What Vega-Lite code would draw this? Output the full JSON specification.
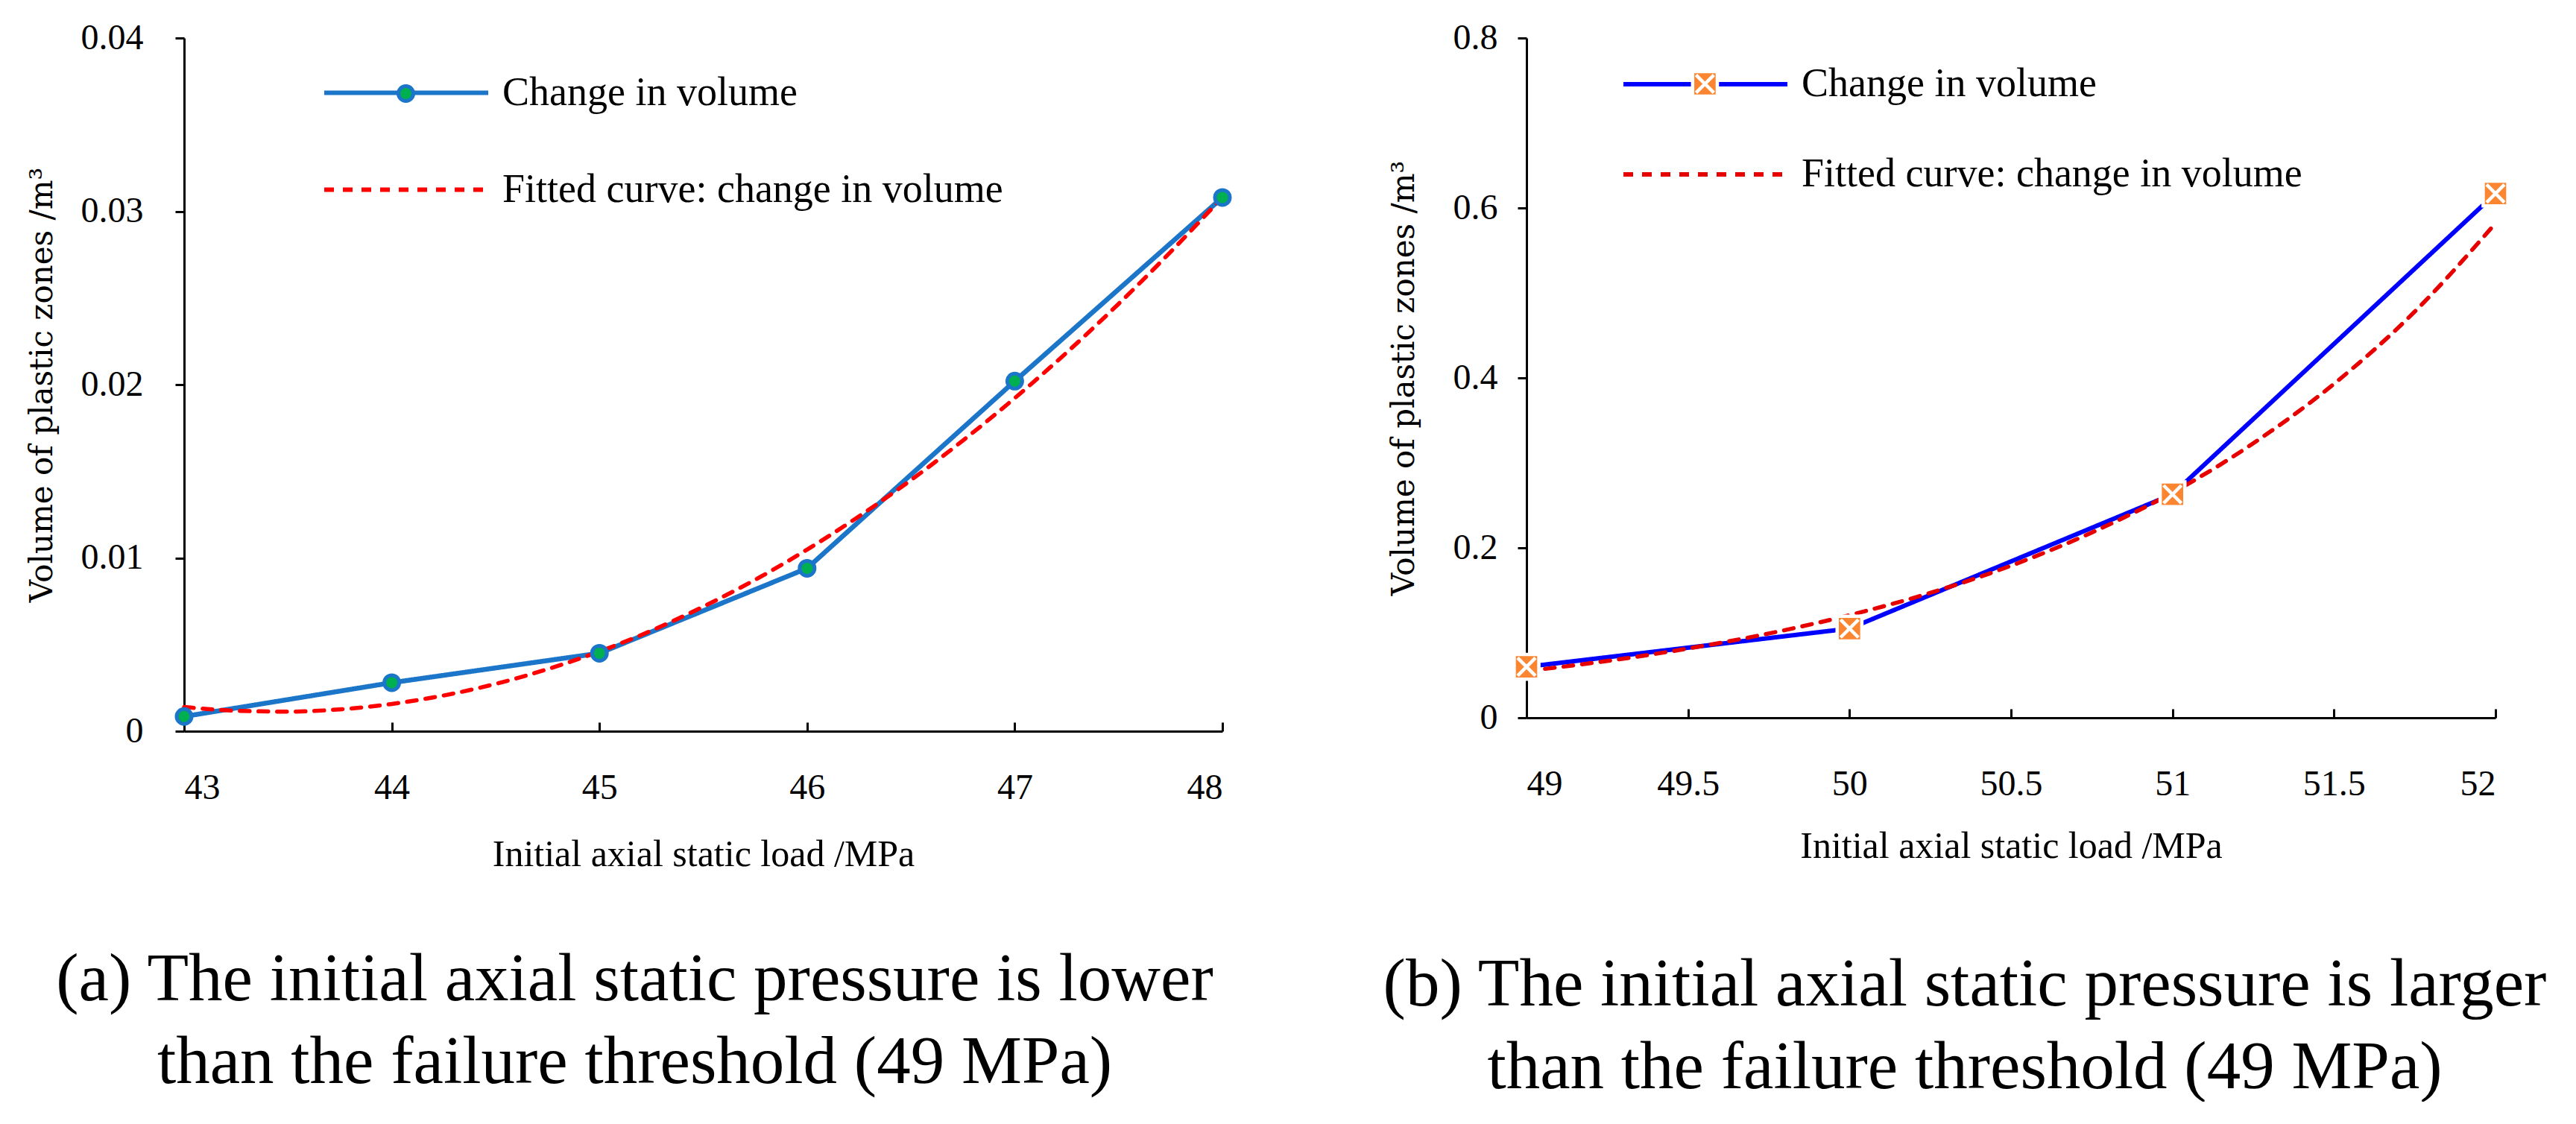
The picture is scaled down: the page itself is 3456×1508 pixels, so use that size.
{
  "$schema": "https://vega.github.io/schema/vega-lite/v6.json",
  "background": "white",
  "padding": {"left": 35, "top": 27, "right": 0, "bottom": 0},
  "datasets": {
    "low": [
      {"load": 43, "volume": 0.00085, "series": "Change in volume"},
      {"load": 44, "volume": 0.0028, "series": "Change in volume"},
      {"load": 45, "volume": 0.0045, "series": "Change in volume"},
      {"load": 46, "volume": 0.0094, "series": "Change in volume"},
      {"load": 47, "volume": 0.0202, "series": "Change in volume"},
      {"load": 48, "volume": 0.0308, "series": "Change in volume"},
      {"load": 43, "volume": 0.0014, "series": "Fitted curve: change in volume"},
      {"load": 43.25, "volume": 0.00118, "series": "Fitted curve: change in volume"},
      {"load": 43.5, "volume": 0.00113, "series": "Fitted curve: change in volume"},
      {"load": 43.75, "volume": 0.00126, "series": "Fitted curve: change in volume"},
      {"load": 44, "volume": 0.00157, "series": "Fitted curve: change in volume"},
      {"load": 44.25, "volume": 0.00206, "series": "Fitted curve: change in volume"},
      {"load": 44.5, "volume": 0.00273, "series": "Fitted curve: change in volume"},
      {"load": 44.75, "volume": 0.00358, "series": "Fitted curve: change in volume"},
      {"load": 45, "volume": 0.0046, "series": "Fitted curve: change in volume"},
      {"load": 45.25, "volume": 0.0058, "series": "Fitted curve: change in volume"},
      {"load": 45.5, "volume": 0.00719, "series": "Fitted curve: change in volume"},
      {"load": 45.75, "volume": 0.00874, "series": "Fitted curve: change in volume"},
      {"load": 46, "volume": 0.01048, "series": "Fitted curve: change in volume"},
      {"load": 46.25, "volume": 0.0124, "series": "Fitted curve: change in volume"},
      {"load": 46.5, "volume": 0.01449, "series": "Fitted curve: change in volume"},
      {"load": 46.75, "volume": 0.01677, "series": "Fitted curve: change in volume"},
      {"load": 47, "volume": 0.01922, "series": "Fitted curve: change in volume"},
      {"load": 47.25, "volume": 0.02185, "series": "Fitted curve: change in volume"},
      {"load": 47.5, "volume": 0.02466, "series": "Fitted curve: change in volume"},
      {"load": 47.75, "volume": 0.02765, "series": "Fitted curve: change in volume"},
      {"load": 48, "volume": 0.03081, "series": "Fitted curve: change in volume"}
    ],
    "high": [
      {"load": 49, "volume": 0.06, "series": "Change in volume"},
      {"load": 50, "volume": 0.105, "series": "Change in volume"},
      {"load": 51, "volume": 0.263, "series": "Change in volume"},
      {"load": 52, "volume": 0.617, "series": "Change in volume"},
      {"load": 49, "volume": 0.055, "series": "Fitted curve: change in volume"},
      {"load": 49.25, "volume": 0.0669, "series": "Fitted curve: change in volume"},
      {"load": 49.5, "volume": 0.0815, "series": "Fitted curve: change in volume"},
      {"load": 49.75, "volume": 0.0992, "series": "Fitted curve: change in volume"},
      {"load": 50, "volume": 0.1208, "series": "Fitted curve: change in volume"},
      {"load": 50.25, "volume": 0.147, "series": "Fitted curve: change in volume"},
      {"load": 50.5, "volume": 0.179, "series": "Fitted curve: change in volume"},
      {"load": 50.75, "volume": 0.218, "series": "Fitted curve: change in volume"},
      {"load": 51, "volume": 0.265, "series": "Fitted curve: change in volume"},
      {"load": 51.25, "volume": 0.323, "series": "Fitted curve: change in volume"},
      {"load": 51.5, "volume": 0.393, "series": "Fitted curve: change in volume"},
      {"load": 51.75, "volume": 0.478, "series": "Fitted curve: change in volume"},
      {"load": 52, "volume": 0.582, "series": "Fitted curve: change in volume"}
    ]
  },
  "bounds": "flush",
  "spacing": 408,
  "resolve": {
    "scale": {"color": "independent", "strokeDash": "independent", "shape": "independent"},
    "legend": {"color": "independent", "strokeDash": "independent", "shape": "independent"}
  },
  "hconcat": [
    {
      "width": 1393,
      "height": 930,
      "data": {"name": "low"},
      "title": {
        "text": ["(a) The initial axial static pressure is lower", "than the failure threshold (49 MPa)"],
        "orient": "bottom",
        "anchor": "middle",
        "dx": -92,
        "offset": 99
      },
      "encoding": {
        "x": {
          "field": "load",
          "type": "quantitative",
          "scale": {"domain": [43, 48], "nice": false, "zero": false},
          "axis": {"values": [43, 44, 45, 46, 47, 48], "title": "Initial axial static load /MPa", "tickSize": -12, "labelPadding": 64, "titlePadding": 40}
        },
        "y": {
          "field": "volume",
          "type": "quantitative",
          "scale": {"domain": [0, 0.04], "nice": false},
          "axis": {"values": [0, 0.01, 0.02, 0.03, 0.04], "title": "Volume of plastic zones /m³", "labelPadding": 43, "titlePadding": 30}
        }
      },
      "layer": [
        {
          "transform": [{"filter": "datum.series === 'Change in volume'"}],
          "mark": {"type": "line", "strokeWidth": 6.5, "strokeCap": "round", "strokeJoin": "round"},
          "encoding": {
            "color": {
              "field": "series", "type": "nominal",
              "scale": {"domain": ["Change in volume", "Fitted curve: change in volume"], "range": ["#1B75C9", "#FF0000"]},
              "legend": {"orient": "none", "legendX": 267.5, "legendY": 43, "rowPadding": 72}
            },
            "strokeDash": {
              "field": "series", "type": "nominal",
              "scale": {"domain": ["Change in volume", "Fitted curve: change in volume"], "range": [[1, 0], [13, 12]]},
              "legend": {"orient": "none", "legendX": 267.5, "legendY": 43, "rowPadding": 72}
            }
          }
        },
        {
          "transform": [{"filter": "datum.series !== 'Change in volume'"}],
          "mark": {"type": "line", "interpolate": "monotone", "strokeWidth": 5.5, "strokeCap": "round"},
          "encoding": {
            "color": {"field": "series", "type": "nominal"},
            "strokeDash": {"field": "series", "type": "nominal"}
          }
        },
        {
          "transform": [{"filter": "datum.series === 'Change in volume'"}],
          "mark": {"type": "point", "filled": true, "fill": "#00B050", "stroke": "#1B75C9", "strokeWidth": 5, "size": 400, "opacity": 1},
          "encoding": {
            "shape": {
              "field": "series", "type": "nominal",
              "scale": {"domain": ["Change in volume"], "range": ["circle"]},
              "legend": {
                "orient": "none", "legendX": 285, "legendY": 62,
                "symbolSize": 400, "symbolStrokeWidth": 5, "labelExpr": "''", "labelFontSize": 1, "labelOffset": 0,
                "encode": {"symbols": {"update": {"fill": {"value": "#00B050"}, "stroke": {"value": "#1B75C9"}, "opacity": {"value": 1}}}}
              }
            }
          }
        }
      ]
    },
    {
      "width": 1300,
      "height": 912,
      "data": {"name": "high"},
      "title": {
        "text": ["(b) The initial axial static pressure is larger", "than the failure threshold (49 MPa)"],
        "orient": "bottom",
        "anchor": "middle",
        "dx": -62,
        "offset": 117
      },
      "encoding": {
        "x": {
          "field": "load",
          "type": "quantitative",
          "scale": {"domain": [49, 52], "nice": false, "zero": false},
          "axis": {"values": [49, 49.5, 50, 50.5, 51, 51.5, 52], "title": "Initial axial static load /MPa", "tickSize": -12, "labelPadding": 77, "titlePadding": 34}
        },
        "y": {
          "field": "volume",
          "type": "quantitative",
          "scale": {"domain": [0, 0.8], "nice": false},
          "axis": {"values": [0, 0.2, 0.4, 0.6, 0.8], "title": "Volume of plastic zones /m³", "labelPadding": 27, "titlePadding": 44}
        }
      },
      "layer": [
        {
          "transform": [{"filter": "datum.series === 'Change in volume'"}],
          "mark": {"type": "line", "strokeWidth": 6, "strokeCap": "round", "strokeJoin": "round"},
          "encoding": {
            "color": {
              "field": "series", "type": "nominal",
              "scale": {"domain": ["Change in volume", "Fitted curve: change in volume"], "range": ["#0000FF", "#E60000"]},
              "legend": {"orient": "none", "legendX": 209.5, "legendY": 31.5, "rowPadding": 63}
            },
            "strokeDash": {
              "field": "series", "type": "nominal",
              "scale": {"domain": ["Change in volume", "Fitted curve: change in volume"], "range": [[1, 0], [13, 12]]},
              "legend": {"orient": "none", "legendX": 209.5, "legendY": 31.5, "rowPadding": 63}
            }
          }
        },
        {
          "transform": [{"filter": "datum.series !== 'Change in volume'"}],
          "mark": {"type": "line", "interpolate": "monotone", "strokeWidth": 5.5, "strokeCap": "round"},
          "encoding": {
            "color": {"field": "series", "type": "nominal"},
            "strokeDash": {"field": "series", "type": "nominal"}
          }
        },
        {
          "transform": [{"filter": "datum.series === 'Change in volume'"}],
          "mark": {"type": "point", "filled": true, "fill": "#FB8530", "stroke": "white", "strokeWidth": 4.5, "size": 1100, "opacity": 1},
          "encoding": {
            "shape": {
              "field": "series", "type": "nominal",
              "scale": {"domain": ["Change in volume"], "range": ["M-1,-1H1V1H-1Z M-0.72,-0.72L0.72,0.72 M-0.72,0.72L0.72,-0.72"]},
              "legend": {
                "orient": "none", "legendX": 220.4, "legendY": 42.5,
                "symbolSize": 1100, "symbolStrokeWidth": 4.5, "labelExpr": "''", "labelFontSize": 1, "labelOffset": 0,
                "encode": {"symbols": {"update": {"fill": {"value": "#FB8530"}, "stroke": {"value": "white"}, "opacity": {"value": 1}}}}
              }
            }
          }
        }
      ]
    }
  ],
  "config": {
    "font": "Liberation Serif",
    "view": {"stroke": null},
    "axis": {
      "grid": false,
      "format": "~g",
      "domainColor": "black",
      "domainWidth": 3,
      "tickColor": "black",
      "tickWidth": 3,
      "tickSize": 12,
      "labelColor": "black",
      "labelFont": "Liberation Serif",
      "labelFontSize": 48,
      "titleColor": "black",
      "titleFontWeight": "normal"
    },
    "axisX": {"titleFont": "Liberation Serif", "titleFontSize": 50},
    "axisY": {"titleFont": "DejaVu Serif", "titleFontSize": 42},
    "legend": {
      "title": null,
      "padding": 0,
      "symbolType": "M-4,0H4",
      "symbolSize": 3025,
      "symbolStrokeWidth": 6,
      "labelFont": "Liberation Serif",
      "labelFontSize": 54,
      "labelColor": "black",
      "labelOffset": 98.5,
      "labelLimit": 0
    },
    "title": {
      "font": "Liberation Serif",
      "fontSize": 91,
      "fontWeight": "normal",
      "lineHeight": 111,
      "color": "black"
    }
  }
}
